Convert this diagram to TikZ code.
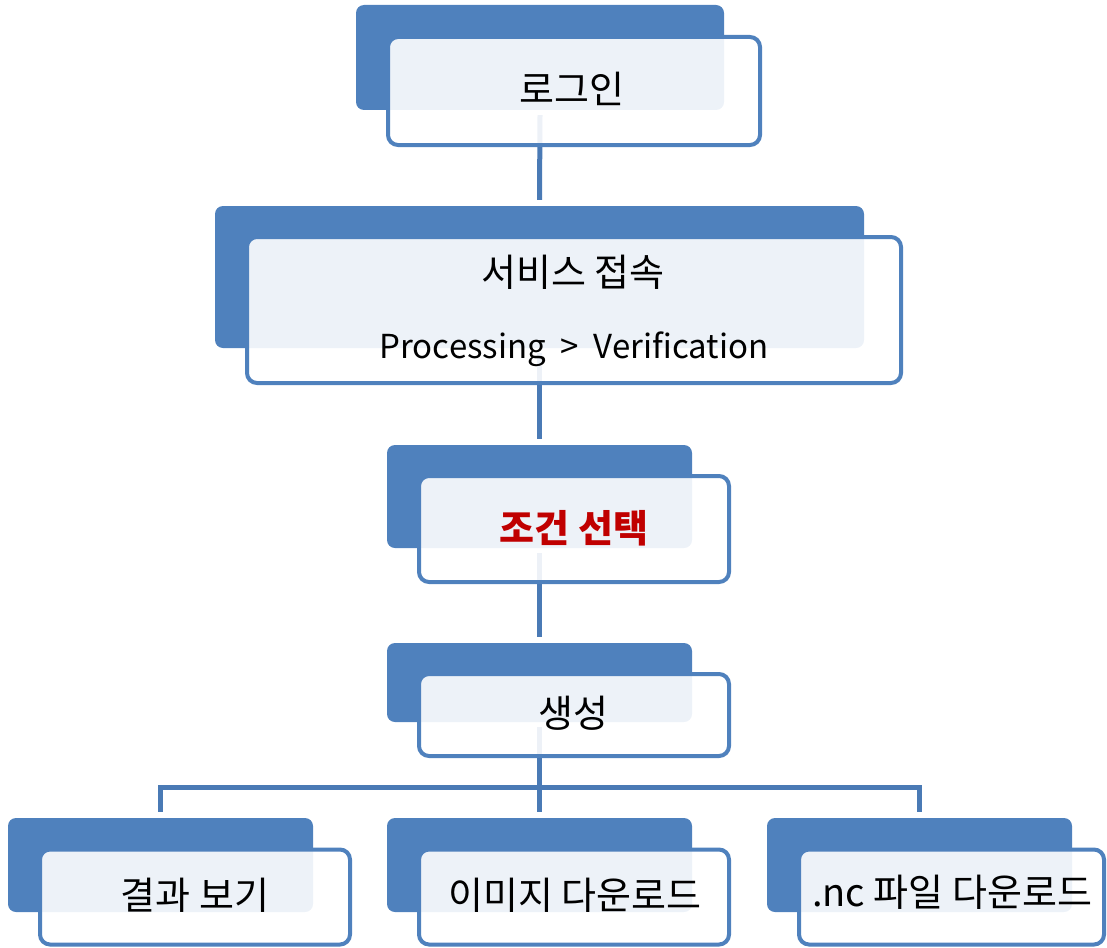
\documentclass[tikz,border=0pt]{standalone}
\usepackage{fontspec}
\setmainfont{Noto Sans CJK KR}
\definecolor{accent}{HTML}{4F81BD}
\definecolor{linkc}{HTML}{4A7AB5}
\definecolor{redtxt}{HTML}{C00000}
\begin{document}
\begin{tikzpicture}[x=1pt,y=-1pt,
  backbox/.style={fill=accent,draw=none,rounded corners=8pt,inner sep=0pt},
  frontbox/.style={fill=white,fill opacity=0.9,text opacity=1,draw=accent,line width=4pt,rounded corners=10pt,inner sep=0pt},
  link/.style={draw=linkc,line width=5pt},
  lbl/.style={inner sep=0pt,font=\fontsize{38}{44}\selectfont},
  latin/.style={inner sep=0pt,font=\fontsize{33}{40}\selectfont}
]
\useasboundingbox (0,0) rectangle (1107,947);
% back boxes
\node[backbox,minimum width=368pt,minimum height=105pt] (b1) at (540,57.5) {};
\node[backbox,minimum width=649pt,minimum height=142pt] (b2) at (539.5,277) {};
\node[backbox,minimum width=305pt,minimum height=103pt] (b3) at (539.5,496.5) {};
\node[backbox,minimum width=305pt,minimum height=79pt] (b4) at (539.5,682.5) {};
\node[backbox,minimum width=305pt,minimum height=94pt] (b5) at (160.5,865) {};
\node[backbox,minimum width=305pt,minimum height=94pt] (b6) at (539.5,865) {};
\node[backbox,minimum width=305pt,minimum height=94pt] (b7) at (919.5,865) {};
% connectors
\coordinate (bar) at (540,787);
\draw[link] ([yshift=-5pt]b1.south) -- ([yshift=6pt]b2.north);
\draw[link] ([yshift=-5pt]b2.south) -- ([yshift=6pt]b3.north);
\draw[link] ([yshift=-5pt]b3.south) -- ([yshift=6pt]b4.north);
\draw[link] ([yshift=-5pt]b4.south) -- ([yshift=6pt]b6.north);
\draw[link] ([yshift=6pt]b5.north) |- (bar) -| ([yshift=6pt]b7.north);
% front boxes
\node[frontbox,minimum width=372pt,minimum height=108pt] (f1) at (574,91) {};
\node[frontbox,minimum width=654pt,minimum height=146pt] (f2) at (574,310) {};
\node[frontbox,minimum width=310pt,minimum height=106pt] (f3) at (574,529) {};
\node[frontbox,minimum width=310pt,minimum height=82pt] (f4) at (574,715) {};
\node[frontbox,minimum width=310pt,minimum height=95pt] (f5) at (195,897) {};
\node[frontbox,minimum width=310pt,minimum height=95pt] (f6) at (574,897) {};
\node[frontbox,minimum width=305pt,minimum height=95pt] (f7) at (951.5,897) {};
% labels
\node[lbl] (t1) at (572,89) {로그인};
\node[lbl] (t2a) at (573,272) {서비스 접속};
\node[latin] (t2b) at (574,349) {Processing \ >\ \ Verification};
\node[lbl,text=redtxt,font=\fontsize{38}{44}\selectfont\bfseries] (t3) at (574,528) {조건 선택};
\node[lbl] (t4) at (573,713) {생성};
\node[lbl] (t5) at (195,895) {결과 보기};
\node[lbl] (t6) at (575,895) {이미지 다운로드};
\node[lbl] (t7) at (952,892) {.nc 파일 다운로드};
\end{tikzpicture}
\end{document}
